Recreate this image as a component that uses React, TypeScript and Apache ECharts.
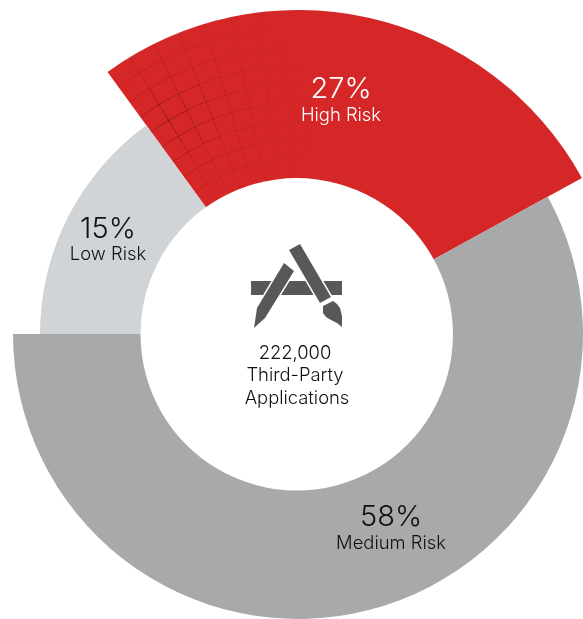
import React, { useEffect, useRef } from "react";
import * as echarts from "echarts";

const categories = ["High Risk", "Medium Risk", "Low Risk"];
const shares = [27, 58, 15];
const shareLabels = ["27%", "58%", "15%"];
const colors = ["#D52728", "#A7A9AB", "#D1D4D7"];
const outerRadii = [324, 285, 258];
const centerLines = ["222,000", "Third-Party", "Applications"];

const CX = 298;
const CY = 334;
const HOLE = { cx: 296.75, cy: 334.3, r: 156.2 };
const MESH_START = 157;
const FONT = "Inter, 'Noto Sans', sans-serif";

function pt(r: number, deg: number): number[] {
  const a = (deg * Math.PI) / 180;
  return [CX + r * Math.cos(a), CY - r * Math.sin(a)];
}

function meshElements() {
  const out: any[] = [];
  const hot = pt(249, 121.4);
  const add = (p: number[], q: number[]) => {
    const mx = (p[0] + q[0]) / 2 - hot[0];
    const my = (p[1] + q[1]) / 2 - hot[1];
    const d = Math.sqrt(mx * mx + my * my);
    const o = 0.3 * Math.exp(-d / 52);
    if (o < 0.02) return;
    out.push({
      type: "line",
      z: 5,
      silent: true,
      shape: { x1: p[0], y1: p[1], x2: q[0], y2: q[1] },
      style: { stroke: "#000", lineWidth: 1, opacity: o, lineCap: "round" },
    });
  };
  for (let k = 1; k <= 8; k++) {
    const r = MESH_START + k * 18.55;
    for (let a = 126; a > 86; a -= 1.2) add(pt(r, a), pt(r, a - 1.2));
  }
  for (let k = 1; k <= 8; k++) {
    const a = 126 - k * 4.8;
    for (let r = MESH_START - 4; r < 324; r += 6) add(pt(r, a), pt(Math.min(r + 6, 324), a));
  }
  return out;
}

function label(text: string, x: number, y: number, size: number, fill: string): any {
  return {
    type: "text",
    z: 10,
    silent: true,
    x,
    y,
    style: { text, fill, font: `300 ${size}px ${FONT}`, textAlign: "center", textVerticalAlign: "middle" },
  };
}

const ICON = "#58585B";
const iconPoly = (points: number[][]): any[] => [
  { type: "polygon", z: 8, silent: true, shape: { points }, style: { fill: "#fff", stroke: "#fff", lineWidth: 3 } },
  { type: "polygon", z: 9, silent: true, shape: { points }, style: { fill: ICON } },
];

export default function App() {
  const ref = useRef<HTMLDivElement>(null);
  useEffect(() => {
    const chart = echarts.init(ref.current!, undefined, { renderer: "svg" });
    chart.setOption({
      animation: false,
      series: outerRadii.map((r, i) => ({
        type: "pie",
        silent: true,
        center: [CX, CY],
        radius: [140, r],
        startAngle: 126,
        clockwise: true,
        label: { show: false },
        labelLine: { show: false },
        data: categories.map((name, j) => ({
          name,
          value: shares[j],
          itemStyle: { color: j === i ? colors[j] : "rgba(0,0,0,0)", borderWidth: 0 },
        })),
      })),
      graphic: [
        ...meshElements(),
        { type: "circle", z: 6, silent: true, shape: HOLE, style: { fill: "#fff" } },
        label(shareLabels[0], 341, 87, 29, "#fff"),
        label(categories[0], 341, 113.5, 18.4, "#fff"),
        label(shareLabels[2], 108, 227, 29, "#111"),
        label(categories[2], 108, 252.5, 18.4, "#111"),
        label(shareLabels[1], 391, 515, 29, "#111"),
        label(categories[1], 391, 541.5, 18.4, "#111"),
        label(centerLines[0], 295, 352, 18.4, "#111"),
        label(centerLines[1], 295, 374, 18.4, "#111"),
        label(centerLines[2], 297, 397, 18.4, "#111"),
        { type: "polygon", z: 7, silent: true, shape: { points: [[251, 281], [342, 281], [342, 295], [251, 295]] }, style: { fill: ICON } },
        ...iconPoly([[254, 328], [257, 308], [284, 263], [294, 271], [265, 318]]),
        ...iconPoly([[289, 250], [300, 244], [331, 297], [320, 303]]),
        ...iconPoly([[323, 306], [333, 301], [337, 304], [340, 308], [342, 316], [342, 327], [337, 323], [331, 320], [326, 317], [323, 313]]),
      ],
    });
    return () => chart.dispose();
  }, []);
  return <div ref={ref} style={{ position: "fixed", left: 0, top: 0, width: 583, height: 619 }} />;
}
